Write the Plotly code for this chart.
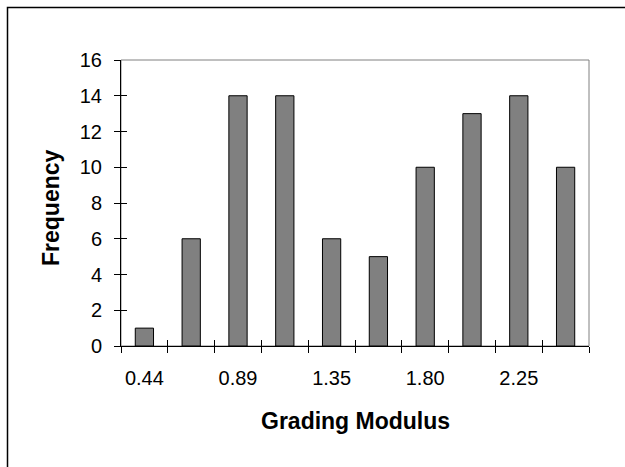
import plotly.graph_objects as go

# Histogram of grading modulus: bin labels and counts per bin
bin_labels = ["0.44", "0.67", "0.89", "1.12", "1.35", "1.57", "1.80", "2.02", "2.25", "2.48"]
frequency = [1, 6, 14, 14, 6, 5, 10, 13, 14, 10]

y_ticks = [0, 2, 4, 6, 8, 10, 12, 14, 16]

W, H = 625, 467
L, R, T, B = 121, 36, 60, 121
plot_w = W - L - R
plot_h = H - T - B


def px_x(px):
    return (px - L) / plot_w


def px_y(py):
    return (H - B - py) / plot_h


FONT = "Liberation Sans, Arial, sans-serif"

fig = go.Figure()

fig.add_trace(go.Bar(
    x=bin_labels,
    y=frequency,
    marker=dict(color="#808080", line=dict(color="black", width=1)),
    width=0.39,
    hoverinfo="x+y",
    showlegend=False,
))

# Twin of the bars on overlay axes so inside ticks can be drawn (cross ticks)
fig.add_trace(go.Bar(
    x=bin_labels,
    y=frequency,
    xaxis="x2",
    yaxis="y2",
    opacity=0,
    hoverinfo="skip",
    showlegend=False,
))

common_x = dict(
    type="category",
    categoryorder="array",
    categoryarray=bin_labels,
    range=[-0.5, len(bin_labels) - 0.5],
    tickson="boundaries",
    ticklen=6,
    tickcolor="black",
    tickwidth=1,
    tickangle=0,
    showgrid=False,
    zeroline=False,
    fixedrange=True,
)
common_y = dict(
    range=[0, 16],
    tickvals=y_ticks,
    ticklen=6,
    tickcolor="black",
    tickwidth=1,
    showgrid=False,
    zeroline=False,
    fixedrange=True,
)

fig.update_layout(
    width=W,
    height=H,
    margin=dict(l=L, r=R, t=T, b=B),
    paper_bgcolor="white",
    plot_bgcolor="white",
    bargap=0.6,
    font=dict(family=FONT, size=20, color="black"),
    xaxis=dict(
        **common_x,
        ticks="outside",
        showline=True,
        linecolor="black",
        linewidth=1,
        ticklabelstep=2,
        ticklabelstandoff=14,
        tickfont=dict(family=FONT, size=20, color="black"),
    ),
    xaxis2=dict(
        **common_x,
        overlaying="x",
        anchor="y",
        ticks="inside",
        showticklabels=False,
        showline=False,
    ),
    yaxis=dict(
        **common_y,
        ticks="outside",
        showline=True,
        linecolor="black",
        linewidth=1,
        ticklabelstandoff=8,
        tickfont=dict(family=FONT, size=20, color="black"),
    ),
    yaxis2=dict(
        **common_y,
        overlaying="y",
        anchor="x",
        ticks="inside",
        showticklabels=False,
        showline=False,
    ),
    shapes=[
        # grey frame of the plot area (top and right edges show)
        dict(type="rect", xref="paper", yref="paper", x0=0, y0=0, x1=1, y1=1,
             line=dict(color="#808080", width=1), layer="below"),
        # outer chart border
        dict(type="rect", xref="paper", yref="paper",
             x0=px_x(7.5), y0=px_y(475), x1=px_x(632), y1=px_y(7.5),
             line=dict(color="black", width=1.5), layer="below"),
    ],
    annotations=[
        dict(text="<b>Grading Modulus</b>", xref="paper", yref="paper",
             x=0.5, y=px_y(421), xanchor="center", yanchor="middle",
             showarrow=False, font=dict(family=FONT, size=23, color="black")),
        dict(text="<b>Frequency</b>", xref="paper", yref="paper",
             x=px_x(51), y=px_y(208), xanchor="center", yanchor="middle",
             textangle=-90, showarrow=False,
             font=dict(family=FONT, size=23, color="black")),
    ],
)

fig.write_html("out.html")
